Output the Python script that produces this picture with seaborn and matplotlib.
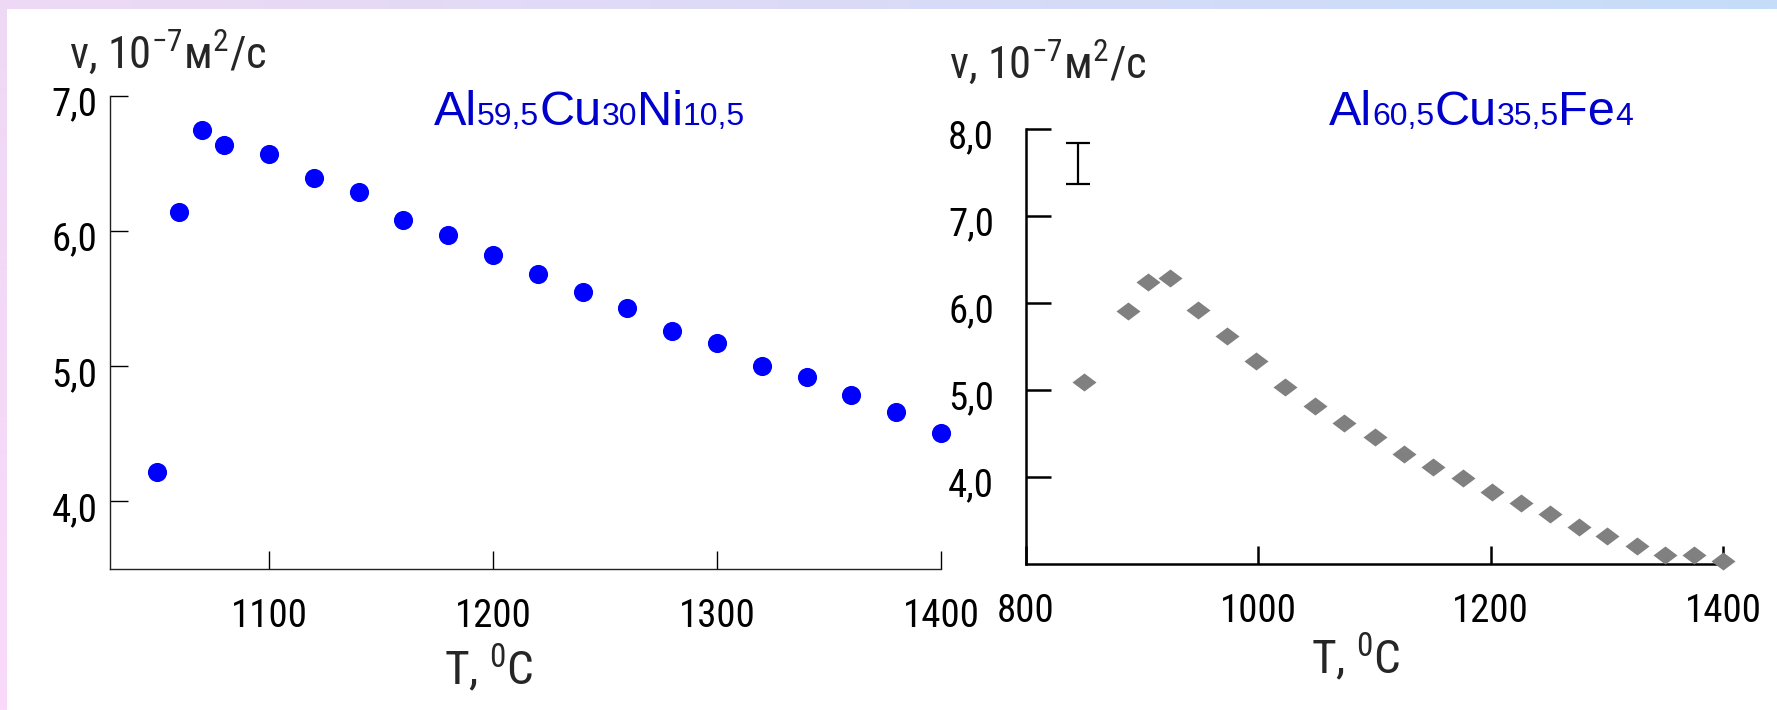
import numpy as np
import pandas as pd
import matplotlib
matplotlib.use("Agg")
import matplotlib.pyplot as plt
import matplotlib.transforms as mtransforms
import seaborn as sns
from matplotlib.path import Path
from matplotlib.markers import MarkerStyle
from matplotlib import font_manager as fm

# ---------------- data ----------------
t_ni = [1050, 1060, 1070, 1080, 1100, 1120, 1140, 1160, 1180, 1200, 1220,
        1240, 1260, 1280, 1300, 1320, 1340, 1360, 1380, 1400]
v_ni = [4.22, 6.14, 6.75, 6.64, 6.57, 6.39, 6.29, 6.08, 5.97, 5.82, 5.68,
        5.55, 5.43, 5.26, 5.17, 5.00, 4.92, 4.79, 4.66, 4.51]

t_fe = [850, 888, 905, 924, 948, 973, 998, 1023, 1049, 1074, 1100, 1125,
        1150, 1176, 1201, 1226, 1251, 1276, 1300, 1326, 1350, 1375, 1400]
v_fe = [5.09, 5.91, 6.24, 6.29, 5.92, 5.62, 5.33, 5.04, 4.82, 4.62, 4.46, 4.26,
        4.12, 3.99, 3.83, 3.70, 3.57, 3.43, 3.32, 3.21, 3.10, 3.10, 3.04]

err_t = [845]
err_v = [7.6]
err_e = [0.235]

ni_xticks = [1100, 1200, 1300, 1400]
ni_xlabels = ["1100", "1200", "1300", "1400"]
ni_yticks = [4.0, 5.0, 6.0, 7.0]
ni_ylabels = ["4,0", "5,0", "6,0", "7,0"]
fe_xticks = [800, 1000, 1200, 1400]
fe_xlabels = ["800", "1000", "1200", "1400"]
fe_yticks = [4.0, 5.0, 6.0, 7.0, 8.0]
fe_ylabels = ["4,0", "5,0", "6,0", "7,0", "8,0"]

df_ni = pd.DataFrame({"T": t_ni, "v": v_ni})
df_fe = pd.DataFrame({"T": t_fe, "v": v_fe})

# ---------------- style ----------------
sns.set_theme(style="white")
avail = {f.name for f in fm.fontManager.ttflist}
narrow = "Roboto Condensed" if "Roboto Condensed" in avail else "Liberation Sans"
plt.rcParams["font.family"] = [narrow, "DejaVu Sans"]
plt.rcParams["mathtext.default"] = "regular"

W, H = 1777, 710
fig = plt.figure(figsize=(W / 100, H / 100), dpi=100)
fig.patch.set_facecolor("white")

# decorative border bands
top_h = 9
left_w = 7
axb = fig.add_axes([0, 1 - top_h / H, 1, top_h / H], zorder=-5)
c1 = np.array([0xEE, 0xD9, 0xF5]) / 255
c2 = np.array([0xC5, 0xDD, 0xF9]) / 255
g = np.linspace(0, 1, 256)[:, None]
grad = (c1[None, :] * (1 - g) + c2[None, :] * g)[None, :, :]
axb.imshow(grad, aspect="auto", extent=[0, 1, 0, 1])
axb.axis("off")
axl = fig.add_axes([0, 0, left_w / W, 1 - top_h / H], zorder=-5)
c3 = np.array([0xFA, 0xD9, 0xFA]) / 255
gradv = (c1[None, :] * (1 - g) + c3[None, :] * g)[:, None, :]
axl.imshow(gradv, aspect="auto", extent=[0, 1, 0, 1])
axl.axis("off")

def fig_rect(x0, x1, y_top, y_bot):
    return [x0 / W, 1 - y_bot / H, (x1 - x0) / W, (y_bot - y_top) / H]

ax1 = fig.add_axes(fig_rect(110, 941, 96, 569))
ax2 = fig.add_axes(fig_rect(1026, 1723, 129, 564))

sns.scatterplot(data=df_ni, x="T", y="v", ax=ax1, color="#0000FF", s=190,
                linewidth=0, marker="o", clip_on=False, zorder=5)

diamond = MarkerStyle(Path([(-1, 0), (0, 0.75), (1, 0), (0, -0.75), (-1, 0)],
                           [Path.MOVETO, Path.LINETO, Path.LINETO, Path.LINETO, Path.CLOSEPOLY]))
sns.scatterplot(data=df_fe, x="T", y="v", ax=ax2, color="#808080", s=300,
                linewidth=0, marker=diamond, clip_on=False, zorder=5)
ax2.errorbar(err_t, err_v, yerr=err_e, fmt="none", ecolor="black",
             elinewidth=1.6, capsize=8.5, capthick=1.6)

ax1.set_xlim(1029, 1400)
ax1.set_ylim(3.5, 7.0)
ax2.set_xlim(800, 1400)
ax2.set_ylim(3.0, 8.0)

ax1.set_xticks(ni_xticks, ni_xlabels)
ax1.set_yticks(ni_yticks, ni_ylabels)
ax2.set_xticks(fe_xticks, fe_xlabels)
ax2.set_yticks(fe_yticks, fe_ylabels)

down = mtransforms.ScaledTranslation(0, -5 / 100, fig.dpi_scale_trans)
for ax, lw, ylen, ypad in [(ax1, 1.0, 13, 9), (ax2, 1.8, 18, 23)]:
    ax.set_facecolor("none")
    for s in ["top", "right"]:
        ax.spines[s].set_visible(False)
    for s in ["left", "bottom"]:
        ax.spines[s].set_visible(True)
        ax.spines[s].set_color("#222222" if ax is ax1 else "black")
        ax.spines[s].set_linewidth(lw)
    ax.tick_params(axis="x", direction="in", length=13, width=lw, pad=21,
                   labelsize=28, colors="black", bottom=True)
    ax.tick_params(axis="y", direction="in", length=ylen, width=lw, pad=ypad,
                   labelsize=28, colors="black", left=True)
    for lab in ax.get_yticklabels():
        lab.set_transform(lab.get_transform() + down)
    ax.set_xlabel("")
    ax.set_ylabel("")
    ax.grid(False)

# ---------------- texts ----------------
def px(x, y):
    return x / W, 1 - y / H

fig.text(*px(69, 68), r"v, 10$^{-7}$м$^{2}$/с", fontsize=32, va="baseline", ha="left")
fig.text(*px(949, 78), r"v, 10$^{-7}$м$^{2}$/с", fontsize=32, va="baseline", ha="left")
fig.text(*px(489, 685), r"T, $^{0}$C", fontsize=34, va="baseline", ha="center")
fig.text(*px(1356, 674), r"T, $^{0}$C", fontsize=34, va="baseline", ha="center")

renderer = fig.canvas.get_renderer()

def rich(x, y, parts, color):
    for txt, size in parts:
        t = fig.text(*px(x, y), txt, fontsize=size, va="baseline", ha="left",
                     color=color, family=["Liberation Sans", "DejaVu Sans"])
        bb = t.get_window_extent(renderer)
        x += bb.width

big, small = 35, 23
rich(434, 125, [("Al", big), ("59,5", small), ("Cu", big), ("30", small),
                ("Ni", big), ("10,5", small)], "#0000CC")
rich(1329, 125, [("Al", big), ("60,5", small), ("Cu", big), ("35,5", small),
                 ("Fe", big), ("4", small)], "#0000CC")

fig.savefig("out.png", dpi=100)
